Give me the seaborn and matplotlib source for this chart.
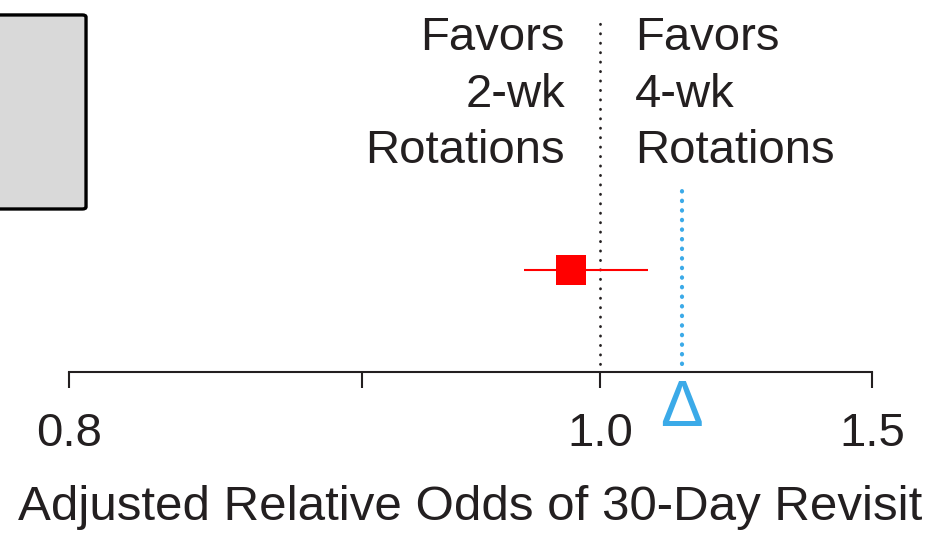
import numpy as np
import matplotlib
matplotlib.use("Agg")
import matplotlib.pyplot as plt
from matplotlib.patches import FancyBboxPatch
import seaborn as sns

# data
estimate = [0.988]
ci_low = [0.968]
ci_high = [1.088]
row = [0.274]
margin = 1.15
null_value = 1.0
tick_values = [0.8, 0.9, 1.0, 1.5]
tick_labels = ["0.8", "", "1.0", "1.5"]
left_text = ["Favors", "2-wk", "Rotations"]
right_text = ["Favors", "4-wk", "Rotations"]

# the axis is not linear: piecewise scale through the tick anchors
anchor_vals = [0.0, 0.8, 0.9, 1.0, 1.5, 3.0]
anchor_pos = [-2344.0, 0.0, 293.0, 531.0, 803.0, 1619.0]


def fwd(x):
    return np.interp(x, anchor_vals, anchor_pos)


def inv(p):
    return np.interp(p, anchor_pos, anchor_vals)


sns.set_style("white")
plt.rcParams["font.family"] = ["Liberation Sans", "DejaVu Sans"]
ink = "#231f20"
blue = "#3baae8"

fig = plt.figure(figsize=(9.32, 5.42), dpi=100)
ax = fig.add_axes([69 / 932, 170 / 542, 803 / 932, 372 / 542])
ax.set_xscale("function", functions=(fwd, inv))
ax.set_xlim(0.8, 1.5)
ax.set_ylim(0, 1)

# reference lines
ax.plot([null_value, null_value], [0.022, 0.946], color=ink, lw=2.0,
        linestyle=(0, (0.1, 3.3)), dash_capstyle="round", clip_on=False)
ax.plot([margin, margin], [0.022, 0.508], color=blue, lw=3.0,
        linestyle=(0, (0.1, 2.2)), dash_capstyle="round", clip_on=False)

# confidence interval and point estimate
ax.hlines(row, ci_low, ci_high, color="red", lw=1.5)
sns.scatterplot(x=estimate, y=row, marker="s", s=440, color="red",
                edgecolor="red", linewidth=0, ax=ax, zorder=3)

# side labels
for i, (lt, rt) in enumerate(zip(left_text, right_text)):
    yb = [0.866, 0.712, 0.562][i]
    ax.annotate(lt, (null_value, yb), xytext=(-35, 0), textcoords="offset pixels",
                ha="right", va="baseline", fontsize=34, color=ink)
    ax.annotate(rt, (null_value, yb), xytext=(35, 0), textcoords="offset pixels",
                ha="left", va="baseline", fontsize=34, color=ink)

# delta marker below the axis
ax.text(margin, -0.145, "\u0394", ha="center", va="baseline", fontsize=46,
        color=blue, clip_on=False)

# axis styling
for s in ["top", "right", "left"]:
    ax.spines[s].set_visible(False)
ax.spines["bottom"].set_color(ink)
ax.spines["bottom"].set_linewidth(1.5)
ax.spines["bottom"].set_bounds(0.8, 1.5)
ax.set_yticks([])
ax.set_xticks(tick_values)
ax.set_xticklabels(tick_labels)
ax.xaxis.set_minor_locator(matplotlib.ticker.NullLocator())
ax.tick_params(axis="x", direction="out", length=11.5, width=1.5, color=ink,
               labelsize=34, labelcolor=ink, pad=17, bottom=True)
ax.set_xlabel("Adjusted Relative Odds of 30-Day Revisit", fontsize=35.5,
              color=ink, labelpad=21)

# partially visible grey box at top left
box = FancyBboxPatch((-0.02, 0.6144), 0.1123, 0.358,
                     boxstyle="round,pad=0,rounding_size=0.004",
                     transform=fig.transFigure, facecolor="#d9d9d9",
                     edgecolor="black", linewidth=2.4)
fig.patches.append(box)

fig.savefig("out.png", dpi=100)
